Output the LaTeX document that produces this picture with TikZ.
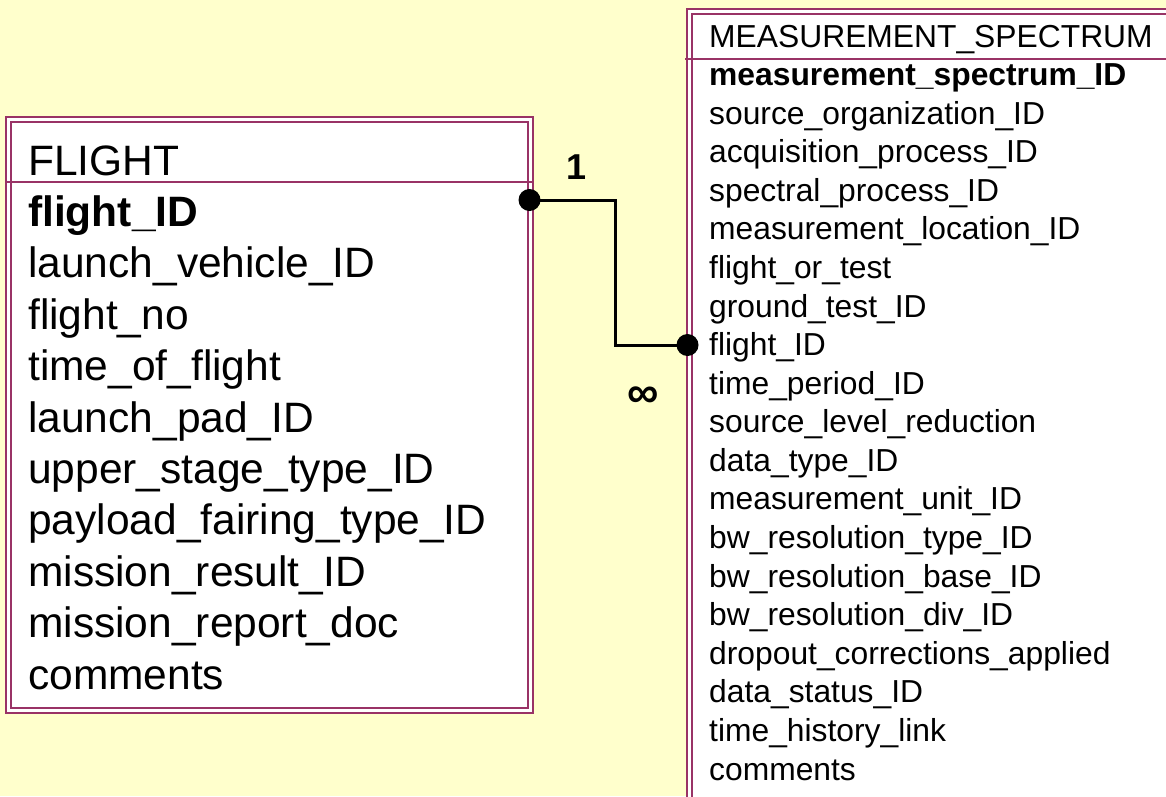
\documentclass[tikz,border=0pt]{standalone}
\usepackage{fontspec}
\setmainfont{Liberation Sans}
\definecolor{bgyellow}{HTML}{FFFFCC}
\definecolor{tblred}{HTML}{993366}
\tikzset{
  tbl/.style={draw=tblred, line width=2pt, double=white, double distance=3pt, fill=white},
  rowline/.style={draw=tblred, line width=2.5pt},
  fieldL/.style={anchor=base west, inner sep=0pt, font=\fontsize{42.5}{50}\selectfont},
  fieldR/.style={anchor=base west, inner sep=0pt, font=\fontsize{31.8}{38}\selectfont},
  dot/.style={circle, fill=black, inner sep=0pt, minimum size=22pt},
  link/.style={line width=3pt}
}

\begin{document}
\begin{tikzpicture}[x=1pt, y=-1pt]
	\fill[bgyellow] (0,0) rectangle (1166,796);
	\useasboundingbox (0,0) rectangle (1166,796);
	\clip (0,0) rectangle (1166,796);
	% tables
	\node[tbl, anchor=north west, minimum width=522pt, minimum height=591.5pt] (flight) at (7.5,118) {};
	\node[tbl, anchor=north west, minimum width=490pt, minimum height=800pt] (spectrum) at (688.5,10.5) {};
	\draw[rowline] (5,182) -- (532,182);
	\draw[rowline] (685,59) -- (1180,59);
	% FLIGHT fields
	\node[fieldL] (flight-head) at (28,175) {FLIGHT};
	\node[fieldL, font=\fontsize{42.5}{50}\selectfont\bfseries] (flight-key) at (28,226.4) {flight\_ID};
	\foreach \fld [count=\i] in {launch\_vehicle\_ID, flight\_no, time\_of\_flight, launch\_pad\_ID,
		upper\_stage\_type\_ID, payload\_fairing\_type\_ID, mission\_result\_ID, mission\_report\_doc, comments}
		\node[fieldL] (flight-\i) at (28,226.4+51.4*\i) {\fld};
	% MEASUREMENT_SPECTRUM fields
	\node[fieldR] (spectrum-head) at (709,47) {MEASUREMENT\_SPECTRUM};
	\node[fieldR, font=\fontsize{31.8}{38}\selectfont\bfseries] (spectrum-key) at (709,85.6) {measurement\_spectrum\_ID};
	\foreach \fld [count=\i] in {source\_organization\_ID, acquisition\_process\_ID, spectral\_process\_ID,
		measurement\_location\_ID, flight\_or\_test, ground\_test\_ID, flight\_ID, time\_period\_ID,
		source\_level\_reduction, data\_type\_ID, measurement\_unit\_ID, bw\_resolution\_type\_ID,
		bw\_resolution\_base\_ID, bw\_resolution\_div\_ID, dropout\_corrections\_applied, data\_status\_ID,
		time\_history\_link, comments}
		\node[fieldR] (spectrum-\i) at (709,85.6+38.58*\i) {\fld};
	% relationship
	\node[dot] (one) at (529.5,200) {};
	\node[dot] (many) at (687.5,345) {};
	\draw[link] (one.center) -- ++(86,0) |- (many.center);
	\node[font=\fontsize{36}{42}\selectfont\bfseries] (one-label) at (577,167) {1};
	\node[font=\fontsize{44}{50}\selectfont\bfseries] (many-label) at (643,397) {∞};
\end{tikzpicture}
\end{document}
